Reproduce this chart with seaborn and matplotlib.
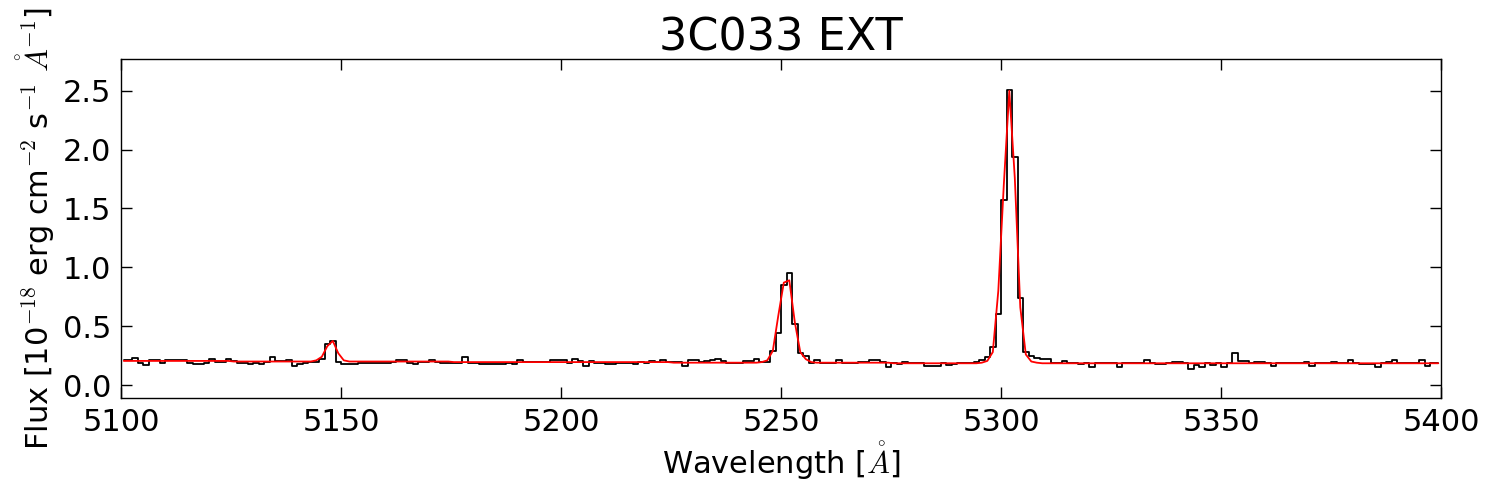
import numpy as np
import pandas as pd
import matplotlib
matplotlib.use("Agg")
import matplotlib.pyplot as plt
import seaborn as sns

# spectral bins: 1.25 A wide, 5100-5400 A
bin_width = 1.25
wave_start = 5100.0
n_bins = 240

# observed flux per bin [1e-18 erg/cm2/s/A]
flux = [
    0.21, 0.21, 0.23, 0.19, 0.17, 0.21, 0.21, 0.19, 0.21, 0.21,
    0.21, 0.21, 0.19, 0.175, 0.18, 0.19, 0.22, 0.20, 0.20, 0.22,
    0.205, 0.19, 0.19, 0.175, 0.19, 0.175, 0.20, 0.24, 0.205, 0.205,
    0.21, 0.16, 0.18, 0.185, 0.195, 0.195, 0.22, 0.35, 0.375, 0.20,
    0.18, 0.18, 0.175, 0.19, 0.19, 0.19, 0.19, 0.19, 0.19, 0.195,
    0.215, 0.215, 0.19, 0.18, 0.195, 0.195, 0.215, 0.195, 0.19, 0.185,
    0.19, 0.19, 0.235, 0.185, 0.185, 0.175, 0.18, 0.175, 0.18, 0.18,
    0.19, 0.175, 0.215, 0.195, 0.20, 0.20, 0.20, 0.20, 0.21, 0.21,
    0.21, 0.185, 0.225, 0.205, 0.165, 0.205, 0.185, 0.19, 0.18, 0.18,
    0.19, 0.19, 0.19, 0.175, 0.20, 0.185, 0.205, 0.195, 0.215, 0.20,
    0.20, 0.20, 0.165, 0.21, 0.21, 0.195, 0.205, 0.215, 0.22, 0.205,
    0.19, 0.19, 0.19, 0.205, 0.205, 0.22, 0.20, 0.20, 0.29, 0.44,
    0.85, 0.95, 0.52, 0.27, 0.245, 0.19, 0.21, 0.19, 0.19, 0.19,
    0.215, 0.185, 0.185, 0.19, 0.20, 0.20, 0.21, 0.215, 0.20, 0.155,
    0.19, 0.18, 0.195, 0.19, 0.185, 0.185, 0.165, 0.165, 0.165, 0.185,
    0.17, 0.175, 0.19, 0.19, 0.19, 0.20, 0.21, 0.24, 0.32, 0.60,
    1.57, 2.51, 1.94, 0.74, 0.28, 0.245, 0.23, 0.22, 0.22, 0.185,
    0.185, 0.205, 0.185, 0.185, 0.175, 0.185, 0.15, 0.19, 0.19, 0.185,
    0.185, 0.155, 0.185, 0.185, 0.19, 0.185, 0.215, 0.185, 0.175, 0.175,
    0.185, 0.195, 0.20, 0.185, 0.14, 0.17, 0.155, 0.19, 0.17, 0.19,
    0.15, 0.185, 0.27, 0.205, 0.205, 0.185, 0.195, 0.20, 0.19, 0.165,
    0.19, 0.19, 0.19, 0.19, 0.19, 0.20, 0.165, 0.185, 0.185, 0.19,
    0.20, 0.185, 0.185, 0.21, 0.185, 0.18, 0.18, 0.18, 0.155, 0.185,
    0.195, 0.215, 0.185, 0.185, 0.185, 0.185, 0.21, 0.165, 0.19, 0.19,
]

# fitted model at the same bin centres
model = [
    0.205, 0.205, 0.205, 0.205, 0.205, 0.205, 0.205, 0.205, 0.205, 0.205,
    0.205, 0.205, 0.205, 0.205, 0.205, 0.205, 0.205, 0.205, 0.205, 0.205,
    0.20, 0.20, 0.20, 0.20, 0.20, 0.20, 0.20, 0.20, 0.20, 0.20,
    0.20, 0.20, 0.20, 0.20, 0.20, 0.21, 0.24, 0.33, 0.375, 0.27,
    0.21, 0.20, 0.20, 0.20, 0.20, 0.20, 0.20, 0.20, 0.20, 0.20,
    0.20, 0.20, 0.20, 0.20, 0.20, 0.20, 0.20, 0.20, 0.20, 0.20,
    0.195, 0.195, 0.195, 0.195, 0.195, 0.195, 0.195, 0.195, 0.195, 0.195,
    0.195, 0.195, 0.195, 0.195, 0.195, 0.195, 0.195, 0.195, 0.195, 0.195,
    0.195, 0.195, 0.195, 0.195, 0.195, 0.195, 0.195, 0.195, 0.195, 0.195,
    0.195, 0.195, 0.195, 0.195, 0.195, 0.195, 0.195, 0.195, 0.195, 0.195,
    0.19, 0.19, 0.19, 0.19, 0.19, 0.19, 0.19, 0.19, 0.19, 0.19,
    0.19, 0.19, 0.19, 0.19, 0.19, 0.19, 0.195, 0.21, 0.29, 0.59,
    0.87, 0.89, 0.535, 0.28, 0.22, 0.195, 0.19, 0.19, 0.19, 0.19,
    0.19, 0.19, 0.19, 0.19, 0.19, 0.19, 0.19, 0.19, 0.19, 0.19,
    0.185, 0.185, 0.185, 0.185, 0.185, 0.185, 0.185, 0.185, 0.185, 0.185,
    0.185, 0.185, 0.185, 0.185, 0.185, 0.185, 0.19, 0.205, 0.28, 0.80,
    1.70, 2.50, 1.76, 0.66, 0.26, 0.20, 0.19, 0.185, 0.185, 0.185,
    0.185, 0.185, 0.185, 0.185, 0.185, 0.185, 0.185, 0.185, 0.185, 0.185,
    0.185, 0.185, 0.185, 0.185, 0.185, 0.185, 0.185, 0.185, 0.185, 0.185,
    0.185, 0.185, 0.185, 0.185, 0.185, 0.185, 0.185, 0.185, 0.185, 0.185,
    0.185, 0.185, 0.185, 0.185, 0.185, 0.185, 0.185, 0.185, 0.185, 0.185,
    0.185, 0.185, 0.185, 0.185, 0.185, 0.185, 0.185, 0.185, 0.185, 0.185,
    0.185, 0.185, 0.185, 0.185, 0.185, 0.185, 0.185, 0.185, 0.185, 0.185,
    0.185, 0.185, 0.185, 0.185, 0.185, 0.185, 0.185, 0.185, 0.185, 0.185,
]

wave = wave_start + bin_width * (np.arange(n_bins) + 0.5)
df = pd.DataFrame({"wave": wave, "flux": flux, "model": model})

sns.set_theme(style="white", rc={
    "axes.edgecolor": "black",
    "axes.linewidth": 1.0,
    "text.color": "black",
    "axes.labelcolor": "black",
    "xtick.color": "black",
    "ytick.color": "black",
    "xtick.direction": "in",
    "ytick.direction": "in",
    "xtick.top": True,
    "ytick.right": True,
    "xtick.bottom": True,
    "ytick.left": True,
    "xtick.major.size": 8,
    "ytick.major.size": 8,
    "xtick.major.width": 1.0,
    "ytick.major.width": 1.0,
    "mathtext.fontset": "cm",
})
plt.rcParams["font.family"] = ["DejaVu Sans"]

fig, ax = plt.subplots(figsize=(15, 5), dpi=100)
fig.subplots_adjust(left=0.0807, right=0.9607, top=0.882, bottom=0.204)

sns.lineplot(data=df, x="wave", y="flux", color="black", linewidth=1.3,
             drawstyle="steps-mid", ax=ax)
sns.lineplot(data=df, x="wave", y="model", color="red", linewidth=1.3, ax=ax)

ax.set_xlim(5100, 5400)
ax.set_ylim(-0.11, 2.77)
ax.set_xticks([5100, 5150, 5200, 5250, 5300, 5350, 5400])
ax.set_yticks([0.0, 0.5, 1.0, 1.5, 2.0, 2.5])
ax.set_yticklabels(["0.0", "0.5", "1.0", "1.5", "2.0", "2.5"])
ax.tick_params(labelsize=22, pad=7)

ax.set_title("3C033 EXT", fontsize=32, pad=6)
ax.set_xlabel(r"Wavelength [$\mathring{A}$]", fontsize=22, labelpad=2)
ax.set_ylabel(r"Flux [10$^{-18}$ erg cm$^{-2}$ s$^{-1}$ $\mathring{A}^{-1}$]",
              fontsize=22)

fig.savefig("out.png", dpi=100, facecolor="white")
